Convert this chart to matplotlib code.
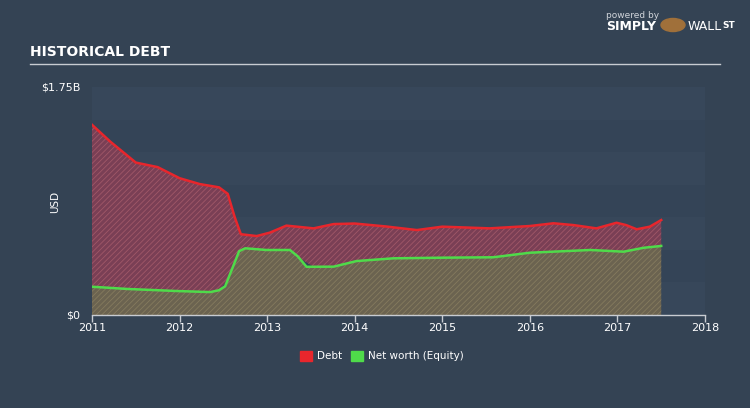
import numpy as np
import matplotlib.pyplot as plt
from matplotlib.patches import Rectangle

# values (years, billions USD)
debt_t = [2011.0, 2011.21, 2011.5, 2011.75, 2012.0, 2012.23, 2012.45, 2012.55, 2012.63,
          2012.7, 2012.88, 2013.03, 2013.22, 2013.53, 2013.76, 2014.0, 2014.35, 2014.71,
          2015.0, 2015.54, 2016.0, 2016.27, 2016.5, 2016.76, 2016.99, 2017.1, 2017.22,
          2017.37, 2017.5]
debt_v = [1.46, 1.33, 1.17, 1.135, 1.05, 1.005, 0.98, 0.93, 0.75,
          0.62, 0.606, 0.632, 0.686, 0.665, 0.698, 0.702, 0.68, 0.652,
          0.678, 0.665, 0.683, 0.704, 0.69, 0.665, 0.708, 0.69, 0.658,
          0.678, 0.729]

equity_t = [2011.0, 2011.4, 2011.97, 2012.35, 2012.45, 2012.52, 2012.61, 2012.68, 2012.75,
            2012.99, 2013.26, 2013.35, 2013.45, 2013.76, 2014.02, 2014.44, 2015.01, 2015.58,
            2016.0, 2016.69, 2017.07, 2017.3, 2017.5]
equity_v = [0.217, 0.2, 0.184, 0.176, 0.19, 0.22, 0.371, 0.49, 0.512,
            0.499, 0.499, 0.45, 0.37, 0.371, 0.414, 0.435, 0.44, 0.443,
            0.478, 0.499, 0.486, 0.516, 0.53]

year_ticks = [2011, 2012, 2013, 2014, 2015, 2016, 2017, 2018]

bg = '#344354'
plt.rcParams['hatch.linewidth'] = 0.6

fig = plt.figure(figsize=(7.5, 4.08), dpi=100, facecolor=bg)
ax = fig.add_axes([92 / 750, 1 - 315 / 408, 613 / 750, 228 / 408])
ax.set_facecolor(bg)

# subtle horizontal bands behind the chart
for i in range(7):
    c = '#37475a' if i % 2 == 0 else '#344457'
    ax.axhspan(i * 0.25, (i + 1) * 0.25, color=c, lw=0, zorder=0)

# debt area (down to equity) and equity area
eq_on_debt = np.interp(debt_t, equity_t, equity_v)
ax.fill_between(debt_t, eq_on_debt, debt_v, facecolor='#7a3f55', edgecolor='#a05868',
                hatch='//////', lw=0, zorder=1)
ax.fill_between(equity_t, 0, equity_v, facecolor='#6b6350', edgecolor='#857b5e',
                hatch='//////', lw=0, zorder=1)
ax.plot(debt_t, debt_v, color='#e8262c', lw=1.8, zorder=3)
ax.plot(equity_t, equity_v, color='#4fdb4a', lw=1.8, zorder=3)

ax.set_xlim(2011, 2018)
ax.set_ylim(0, 1.75)
for s in ['top', 'right', 'left']:
    ax.spines[s].set_visible(False)
ax.spines['bottom'].set_color('#c8ccd2')
ax.spines['bottom'].set_linewidth(1)
ax.set_xticks(year_ticks)
ax.set_xticklabels([str(y) for y in year_ticks], fontsize=8)
ax.tick_params(axis='x', colors='#c8ccd2', length=5, width=1, pad=1, labelcolor='white')
ax.set_yticks([])

# y labels
fig.text(80 / 750, 1 - 87 / 408, '$1.75B', color='white', fontsize=8, ha='right', va='center')
fig.text(80 / 750, 1 - 315 / 408, '$0', color='white', fontsize=8, ha='right', va='center')
fig.text(55 / 750, 1 - 202 / 408, 'USD', color='white', fontsize=7.5, rotation=90,
         ha='center', va='center')

# title and underline
fig.text(30 / 750, 1 - 52 / 408, 'HISTORICAL DEBT', color='white', fontsize=10,
         fontweight='bold', family='DejaVu Sans Condensed', ha='left', va='center')
fig.add_artist(plt.Line2D([30 / 750, 720 / 750], [1 - 64 / 408, 1 - 64 / 408],
                          color='#c8ccd2', lw=1))

# legend
fig.add_artist(Rectangle((300 / 750, 1 - 361 / 408), 12 / 750, 10 / 408, color='#e8262c'))
fig.text(317 / 750, 1 - 356 / 408, 'Debt', color='white', fontsize=7.5, va='center')
fig.add_artist(Rectangle((351 / 750, 1 - 361 / 408), 12 / 750, 10 / 408, color='#4fdb4a'))
fig.text(368 / 750, 1 - 356 / 408, 'Net worth (Equity)', color='white', fontsize=7.5, va='center')

# brand
fig.text(606 / 750, 1 - 15 / 408, 'powered by', color='#d0d4da', fontsize=6.5, va='center')
fig.text(606 / 750, 1 - 27 / 408, 'SIMPLY', color='white', fontsize=9, fontweight='bold', va='center')
fig.text(688 / 750, 1 - 27 / 408, 'WALL', color='white', fontsize=9, va='center')
fig.text(722 / 750, 1 - 25 / 408, 'ST', color='white', fontsize=6.5, fontweight='bold', va='center')
fig.add_artist(plt.Circle((673 / 750, 1 - 25 / 408), 0.016, color='#a0703a',
                          transform=fig.transFigure))

fig.savefig('out.png', dpi=100, facecolor=bg)
